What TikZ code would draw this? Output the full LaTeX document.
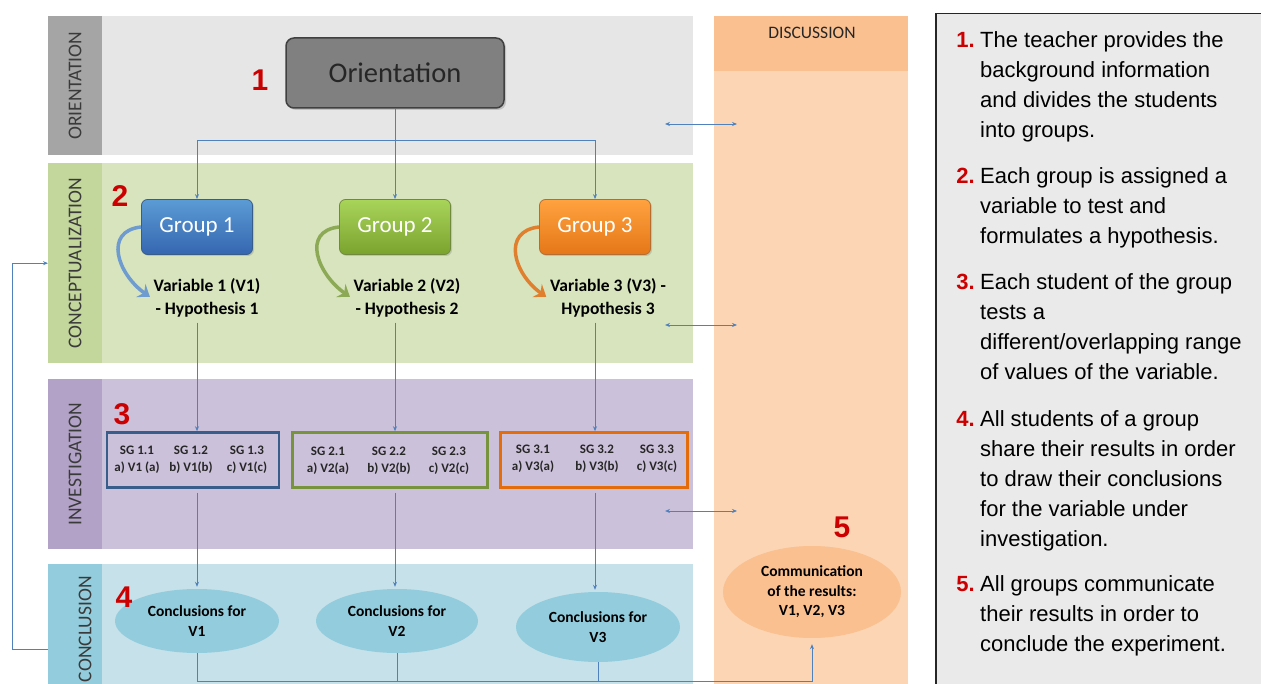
\documentclass[tikz,border=0pt]{standalone}
\usepackage{fontspec}
\setmainfont{Carlito}
\newfontfamily\arialfont{Liberation Sans}
\usepackage{tikz}
\usetikzlibrary{arrows.meta,shapes.geometric,shadows}

% colours
\definecolor{orientbg}{HTML}{E6E6E6}
\definecolor{orientstrip}{HTML}{A5A5A5}
\definecolor{conceptbg}{HTML}{D7E4BD}
\definecolor{conceptstrip}{HTML}{C3D69B}
\definecolor{investbg}{HTML}{CCC1DA}
\definecolor{investstrip}{HTML}{B3A2C7}
\definecolor{conclbg}{HTML}{C6E1EA}
\definecolor{conclstrip}{HTML}{93CDDD}
\definecolor{dischead}{HTML}{FAC090}
\definecolor{discbody}{HTML}{FCD5B5}
\definecolor{linkblue}{HTML}{4F81BD}
\definecolor{stepred}{HTML}{CC0000}
\definecolor{labelgray}{HTML}{3A3A3A}
\definecolor{panelgray}{HTML}{EAEAEA}
\definecolor{g1top}{HTML}{5B9BD5}
\definecolor{g1bot}{HTML}{3566B0}
\definecolor{g1line}{HTML}{385D8A}
\definecolor{g2top}{HTML}{A9D45A}
\definecolor{g2bot}{HTML}{7AA32E}
\definecolor{g2line}{HTML}{71893F}
\definecolor{g3top}{HTML}{FFA23F}
\definecolor{g3bot}{HTML}{E57718}
\definecolor{g3line}{HTML}{B66D31}
\definecolor{sgblue}{HTML}{385D8A}
\definecolor{sggreen}{HTML}{77933C}
\definecolor{sgorange}{HTML}{E46C0A}
\definecolor{curveblue}{HTML}{6E9BD0}
\definecolor{curvegreen}{HTML}{8CAA55}
\definecolor{curveorange}{HTML}{E0802F}

\tikzset{
  band/.style={anchor=north west, inner sep=0pt, minimum width=645pt},
  strip/.style={anchor=north west, inner sep=0pt, minimum width=54pt},
  phaselabel/.style={rotate=90, text=labelgray, font=\fontsize{19.5}{20}\selectfont},
  orientbox/.style={draw=black!75, line width=1.5pt, fill=black!50, rounded corners=8pt,
    minimum width=218pt, minimum height=70pt, text=black!85,
    font=\fontsize{28.5}{30}\selectfont,
    drop shadow={shadow xshift=2pt, shadow yshift=-2pt, opacity=0.35}},
  groupbox/.style={rounded corners=6pt, line width=0.8pt, minimum width=111pt,
    minimum height=55pt, text=white, font=\fontsize{23}{25}\selectfont,
    drop shadow={shadow xshift=1.5pt, shadow yshift=-1.5pt, opacity=0.3}},
  vartext/.style={align=center, inner sep=2pt, font=\bfseries\fontsize{17.5}{23}\selectfont},
  curvarrow/.style={line width=3.5pt, -{Stealth[length=11pt,width=16pt,inset=4pt]}, shorten >=2pt},
  sgbox/.style={draw, line width=2.5pt, minimum height=55pt, inner sep=0pt},
  sgtext/.style={align=center, inner sep=0pt, font=\bfseries\fontsize{13}{17}\selectfont, text=black!85},
  concl/.style={ellipse, fill=conclstrip, inner sep=0pt, align=center,
    font=\bfseries\fontsize{15.5}{20}\selectfont},
  flow/.style={draw=linkblue, line width=0.8pt, -{Stealth[length=5pt,width=4pt]}},
  link/.style={draw=linkblue, line width=0.8pt},
  duplex/.style={draw=linkblue, line width=0.8pt, {Stealth[length=5pt,width=4pt]}-{Stealth[length=5pt,width=4pt]}},
  stepnum/.style={text=stepred, font=\arialfont\bfseries\fontsize{30}{30}\selectfont, inner sep=0pt},
  itemnum/.style={anchor=base east, inner sep=0pt, text=stepred, font=\arialfont\bfseries\fontsize{22}{30}\selectfont},
  itemtext/.style={anchor=base west, inner sep=0pt, font=\arialfont\fontsize{22}{30}\selectfont}
}

\begin{document}
\begin{tikzpicture}[x=1pt,y=-1pt]
  \path[use as bounding box] (0,0) rectangle (1261,684);
  \clip (0,0) rectangle (1261,684);

  % Phase bands
  \foreach \n/\top/\h/\bg/\sc/\lab/\dy in {or/16/139/orientbg/orientstrip/ORIENTATION/0,
      co/163/200/conceptbg/conceptstrip/CONCEPTUALIZATION/0,
      in/379/170/investbg/investstrip/INVESTIGATION/0,
      cl/564/130/conclbg/conclstrip/CONCLUSION/-10} {
    \node[band, fill=\bg, minimum height=\h pt] (band\n) at (48,\top) {};
    \node[strip, fill=\sc, minimum height=\h pt] (strip\n) at (48,\top) {};
    \node[phaselabel, yshift=\dy pt] (lab\n) at (strip\n.center) {\lab};
  }

  % Discussion column
  \node[anchor=north west, inner sep=0pt, fill=discbody, minimum width=194pt, minimum height=680pt] (disc) at (714,16) {};
  \node[anchor=north west, inner sep=0pt, fill=dischead, minimum width=194pt, minimum height=55pt] (dischead) at (714,16) {};
  \node[text=black!85, font=\fontsize{17.5}{18}\selectfont] (disclab) at (812,33) {DISCUSSION};

  % Orientation
  \node[orientbox] (orient) at (395,73) {Orientation};

  % Groups
  \foreach \i/\x/\tc/\bc/\lc in {1/197/g1top/g1bot/g1line, 2/395/g2top/g2bot/g2line, 3/595/g3top/g3bot/g3line} {
    \node[groupbox, top color=\tc, bottom color=\bc, draw=\lc] (g\i) at (\x,227) {Group \i};
  }

  % Variables and hypotheses
  \node[vartext] (v1) at (207,298) {Variable 1 (V1)\\- Hypothesis 1};
  \node[vartext] (v2) at (407,298) {Variable 2 (V2)\\- Hypothesis 2};
  \node[vartext] (v3) at (608,298) {Variable 3 (V3) -\\Hypothesis 3};

  % Curved arrows
  \draw[curvarrow, draw=curveblue] (g1.west) .. controls +(-38,4) and +(-34,-24) .. (v1.west);
  \draw[curvarrow, draw=curvegreen] (g2.west) .. controls +(-38,4) and +(-34,-24) .. (v2.west);
  \draw[curvarrow, draw=curveorange] (g3.west) .. controls +(-38,4) and +(-34,-24) .. (v3.west);

  % Subgroup boxes
  \node[sgbox, draw=sgblue, minimum width=172pt] (sg1) at (193,460) {};
  \node[sgbox, draw=sggreen, minimum width=195pt] (sg2) at (390,460) {};
  \node[sgbox, draw=sgorange, minimum width=187pt] (sg3) at (594,460) {};
  \foreach \k/\x/\y/\lab in {11/137/460/{SG 1.1\\a) V1 (a)}, 12/191/460/{SG 1.2\\b) V1(b)}, 13/247/460/{SG 1.3\\c) V1(c)},
      21/328/461/{SG 2.1\\a) V2(a)}, 22/389/461/{SG 2.2\\b) V2(b)}, 23/449/461/{SG 2.3\\c) V2(c)},
      31/533/459/{SG 3.1\\a) V3(a)}, 32/597/459/{SG 3.2\\b) V3(b)}, 33/657/459/{SG 3.3\\c) V3(c)}} {
    \node[sgtext] (sgt\k) at (\x,\y) {\lab};
  }

  % Conclusions
  \node[concl, minimum width=164pt, minimum height=64pt] (c1) at (197,621) {Conclusions for\\V1};
  \node[concl, minimum width=162pt, minimum height=64pt] (c2) at (397,621) {Conclusions for\\V2};
  \node[concl, minimum width=164pt, minimum height=70pt] (c3) at (598,627) {Conclusions for\\V3};
  \node[concl, fill=dischead, minimum width=178pt, minimum height=92pt,
    font=\bfseries\fontsize{15.5}{19.5}\selectfont] (comm) at (812,592) {Communication\\of the results:\\V1, V2, V3};

  % Step numbers
  \foreach \k/\x/\y in {1/260/80, 2/120/196, 3/122/414, 4/124/597, 5/842/527}
    \node[stepnum] (num\k) at (\x,\y) {\k};

  % Connectors
  \draw[flow] (orient.south) -- (g2.north);
  \draw[flow] (orient.south) -- ++(0,32) -| (g1.north);
  \draw[flow] (orient.south) -- ++(0,32) -| (g3.north);
  \foreach \i in {1,2,3} {
    \draw[flow, shorten <=3pt] (v\i.south -| g\i.south) -- (sg\i.north -| g\i.south);
    \draw[flow, shorten <=4pt, shorten >=2pt] (sg\i.south -| g\i.south) -- (c\i.north -| g\i.south);
  }
  \coordinate (bus) at (0,681);
  \draw[flow, shorten >=6pt] (c1.south) |- (comm.south |- bus) -- (comm.south);
  \draw[link] (c2.south) -- (c2.south |- bus);
  \draw[link] (c3.south) -- (c3.south |- bus);
  \coordinate (fb) at (48,649);
  \draw[flow] (fb) -- ++(-36,0) |- (stripco.west);
  \foreach \k/\y in {1/124, 2/325, 3/511} {
    \coordinate (dl\k) at (665,\y);
    \coordinate (dr\k) at (737,\y);
    \draw[duplex] (dl\k) -- (dr\k);
  }

  % Explanation panel
  \node[anchor=north west, draw=black!85, line width=1.5pt, fill=panelgray, minimum width=340pt, minimum height=690pt] (panel) at (935,13) {};
  \node[itemnum] (n1) at (975,48) {1.};
  \node[itemtext] (t1) at (980,48) {\parbox[t]{280pt}{\raggedright The teacher provides the\\background information\\and divides the students\\into groups.}};
  \node[itemnum] (n2) at (975,184) {2.};
  \node[itemtext] (t2) at (980,184) {\parbox[t]{280pt}{\raggedright Each group is assigned a\\variable to test and\\formulates a hypothesis.}};
  \node[itemnum] (n3) at (975,290) {3.};
  \node[itemtext] (t3) at (980,290) {\parbox[t]{280pt}{\raggedright Each student of the group\\tests a\\different/overlapping range\\of values of the variable.}};
  \node[itemnum] (n4) at (975,426) {4.};
  \node[itemtext] (t4) at (980,426) {\parbox[t]{280pt}{\raggedright All students of a group\\share their results in order\\to draw their conclusions\\for the variable under\\investigation.}};
  \node[itemnum] (n5) at (975,591) {5.};
  \node[itemtext] (t5) at (980,591) {\parbox[t]{280pt}{\raggedright All groups communicate\\their results in order to\\conclude the experiment.}};
\end{tikzpicture}
\end{document}
